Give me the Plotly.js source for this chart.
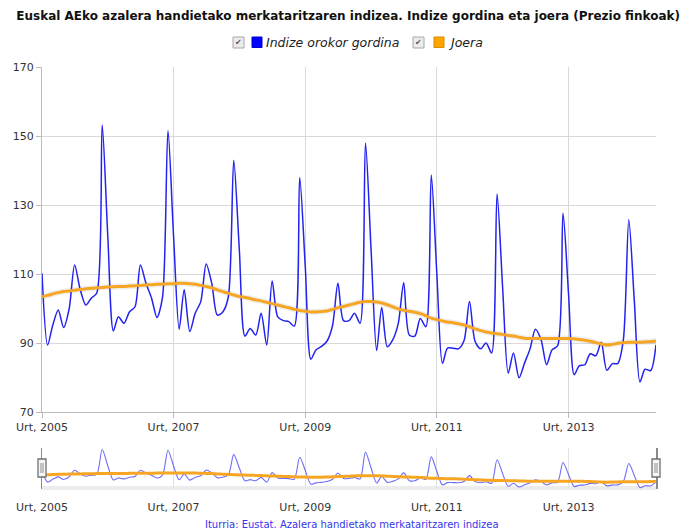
<!DOCTYPE html>
<html>
<head>
<meta charset="utf-8">
<script src="https://cdn.plot.ly/plotly-3.0.1.min.js"></script>
<style>
  html, body { margin: 0; padding: 0; background: #ffffff; }
  #chart { width: 688px; height: 529px; }
</style>
</head>
<body>
<div id="chart"></div>
<script>
// ---- Data (monthly, Jan 2005 .. May 2014) ----
const startYear = 2005;
const indizeOrokorGordina = [
  110.2, 89.4, 95.0, 99.6, 94.5, 100.0, 112.6, 105.5, 101.0, 103.0, 104.5, 153.2,
  121.0, 93.5, 97.6, 95.7, 99.0, 100.5, 112.6, 107.3, 103.0, 97.4, 103.4, 151.5,
  121.0, 94.0, 105.4, 93.3, 98.6, 102.0, 112.9, 107.3, 98.1, 99.0, 103.4, 143.0,
  117.0, 92.0, 94.2, 92.3, 98.6, 89.4, 108.0, 97.6, 96.5, 96.2, 94.9, 138.0,
  112.0, 85.3, 88.0, 89.0, 90.5, 95.0, 107.3, 96.5, 96.5, 98.6, 95.7, 148.0,
  117.0, 87.8, 100.3, 88.9, 90.9, 95.7, 107.5, 92.3, 92.0, 97.1, 94.7, 138.7,
  110.0, 84.1, 88.5, 88.5, 88.3, 90.7, 102.0, 90.5, 88.3, 90.0, 87.1, 133.2,
  106.0, 81.3, 87.1, 79.9, 84.1, 88.3, 94.0, 91.0, 83.7, 88.0, 89.2, 127.6,
  104.0, 80.8, 83.4, 83.7, 86.9, 86.3, 90.2, 82.1, 84.0, 84.1, 91.0, 125.7,
  102.0, 78.7, 82.4, 82.0, 89.5
];
const joera = [
  103.4, 103.8, 104.2, 104.6, 104.9, 105.1, 105.3, 105.5, 105.7, 105.9, 106.0, 106.1,
  106.2, 106.3, 106.4, 106.4, 106.5, 106.6, 106.7, 106.8, 106.9, 107.0, 107.1, 107.2,
  107.2, 107.3, 107.3, 107.2, 107.0, 106.7, 106.4, 106.0, 105.4, 104.9, 104.4, 103.9,
  103.5, 103.2, 102.9, 102.5, 102.2, 101.8, 101.4, 101.0, 100.6, 100.2, 99.8, 99.4,
  99.2, 99.0, 99.0, 99.1, 99.3, 99.7, 100.2, 100.6, 101.0, 101.4, 101.8, 102.0,
  102.0, 101.9, 101.6, 101.1, 100.5, 99.9, 99.5, 99.2, 98.9, 98.5, 97.9, 97.2,
  96.8, 96.4, 96.1, 95.9, 95.6, 95.2, 94.7, 94.1, 93.6, 93.2, 92.9, 92.7,
  92.5, 92.2, 92.0, 91.7, 91.4, 91.3, 91.3, 91.3, 91.3, 91.3, 91.3, 91.3,
  91.3, 91.2, 91.0, 90.8, 90.5, 90.1, 89.7, 89.4, 89.6, 89.9, 90.1, 90.2,
  90.2, 90.2, 90.3, 90.4, 90.6
];
const tickDates = ['2005-01-01', '2007-01-01', '2009-01-01', '2011-01-01', '2013-01-01'];
const tickLabels = ['Urt, 2005', 'Urt, 2007', 'Urt, 2009', 'Urt, 2011', 'Urt, 2013'];
const yTicks = [70, 90, 110, 130, 150, 170];
const seriesNames = ['Indize orokor gordina', 'Joera'];
const titleText = 'Euskal AEko azalera handietako merkataritzaren indizea. Indize gordina eta joera (Prezio finkoak)';
const sourceText = 'Iturria: Eustat. Azalera handietako merkataritzaren indizea';

// month dates
const dates = indizeOrokorGordina.map((_, i) => {
  const y = startYear + Math.floor(i / 12);
  const m = (i % 12) + 1;
  return y + '-' + String(m).padStart(2, '0') + '-01';
});
const xRange = [dates[0], dates[dates.length - 1]];

// ---- geometry helpers (pixel -> paper) ----
const W = 688, H = 529;
const M = { l: 42, r: 32, t: 67, b: 40 };
const PW = W - M.l - M.r, PH = H - M.t - M.b;
const px = x => (x - M.l) / PW;
const py = y => (H - M.b - y) / PH;

const FONT = 'DejaVu Sans, Verdana, sans-serif';
const BLUE = 'rgb(35,35,240)';
const ORANGE = '#f6a623';

const traces = [
  { x: dates, y: joera, name: seriesNames[1] + ' shadow', type: 'scatter', mode: 'lines',
    line: { color: 'rgba(120,120,120,0.12)', width: 6, shape: 'spline', smoothing: 0.8 },
    xaxis: 'x', yaxis: 'y', hoverinfo: 'skip' },
  { x: dates, y: indizeOrokorGordina, name: seriesNames[0], type: 'scatter', mode: 'lines',
    line: { color: BLUE, width: 1.5, shape: 'spline', smoothing: 0.8 }, xaxis: 'x', yaxis: 'y' },
  { x: dates, y: joera, name: seriesNames[1], type: 'scatter', mode: 'lines',
    line: { color: ORANGE, width: 3, shape: 'spline', smoothing: 0.8 }, xaxis: 'x', yaxis: 'y' },
  // navigator
  { x: dates, y: indizeOrokorGordina, name: seriesNames[0], type: 'scatter', mode: 'lines',
    line: { color: 'rgba(60,60,245,0.75)', width: 1.1, shape: 'spline', smoothing: 0.8 },
    xaxis: 'x2', yaxis: 'y2', hoverinfo: 'skip' },
  { x: dates, y: joera, name: seriesNames[1], type: 'scatter', mode: 'lines',
    line: { color: ORANGE, width: 3, shape: 'spline', smoothing: 0.8 },
    xaxis: 'x2', yaxis: 'y2', hoverinfo: 'skip' }
];

const mainBottom = 412;
const navTop = 448;

const shapes = [];
const annotations = [];

// legend (checkbox + swatch + italic label)
function legendItem(cbx, swx, textx, color, border, label) {
  shapes.push({ type: 'rect', xref: 'paper', yref: 'paper', x0: px(cbx), x1: px(cbx + 11), y0: py(48), y1: py(37),
    fillcolor: '#ececec', line: { color: '#a8a8a8', width: 1 } });
  annotations.push({ xref: 'paper', yref: 'paper', x: px(cbx + 5.5), y: py(42.5), text: '\u2714', showarrow: false,
    font: { family: FONT, size: 8, color: '#555' }, xanchor: 'center', yanchor: 'middle' });
  shapes.push({ type: 'rect', xref: 'paper', yref: 'paper', x0: px(swx), x1: px(swx + 10), y0: py(47.5), y1: py(37),
    fillcolor: color, line: { color: border, width: 1 } });
  annotations.push({ xref: 'paper', yref: 'paper', x: px(textx), y: py(42.5), text: '<i>' + label + '</i>', showarrow: false,
    font: { family: FONT, size: 12.5, color: '#222' }, xanchor: 'left', yanchor: 'middle' });
}
legendItem(233, 252, 264, '#0000ff', '#0000cc', seriesNames[0]);
legendItem(413, 434, 446, '#ffa500', '#d88a00', seriesNames[1]);

// navigator bottom band
shapes.push({ type: 'rect', xref: 'paper', yref: 'paper', x0: 0, x1: 1, y0: py(490), y1: py(486),
  fillcolor: '#ececec', line: { width: 0 }, layer: 'below' });

// navigator handles (at both ends of the navigator)
[0, 1].forEach(a => {
  shapes.push({ type: 'rect', xref: 'paper', yref: 'paper', xsizemode: 'pixel', xanchor: a, x0: -4, x1: 4,
    y0: py(477), y1: py(459), fillcolor: '#f6f6f6', line: { color: '#707070', width: 1.3 } });
  shapes.push({ type: 'line', xref: 'paper', yref: 'paper', xsizemode: 'pixel', xanchor: a, x0: -1, x1: -1,
    y0: py(473), y1: py(463), line: { color: '#909090', width: 1 } });
  shapes.push({ type: 'line', xref: 'paper', yref: 'paper', xsizemode: 'pixel', xanchor: a, x0: 1, x1: 1,
    y0: py(473), y1: py(463), line: { color: '#909090', width: 1 } });
});

// source
annotations.push({ xref: 'paper', yref: 'paper', x: px(352), y: py(524), text: sourceText, showarrow: false,
  font: { family: FONT, size: 10, color: '#3535ee' }, xanchor: 'center', yanchor: 'middle' });

const layout = {
  width: W, height: H,
  margin: M,
  paper_bgcolor: '#ffffff', plot_bgcolor: '#ffffff',
  showlegend: false,
  font: { family: FONT, size: 11, color: '#333' },
  title: { text: '<b>' + titleText + '</b>', font: { family: FONT, size: 12, color: '#111' },
    xref: 'container', x: 0.506, xanchor: 'center', yref: 'container', y: 1 - 16 / H, yanchor: 'middle' },
  xaxis: {
    type: 'date', range: xRange, domain: [0, 1], anchor: 'y',
    tickvals: tickDates, ticktext: tickLabels, ticks: 'outside', ticklen: 5, tickcolor: '#bbb',
    showgrid: true, gridcolor: '#d9d9d9', gridwidth: 1,
    showline: true, linecolor: '#bbb', linewidth: 1, zeroline: false,
    tickfont: { family: FONT, size: 11, color: '#333' }
  },
  yaxis: {
    range: [70, 170], domain: [py(mainBottom), 1], anchor: 'x',
    tickvals: yTicks, ticks: 'outside', ticklen: 5, tickcolor: '#bbb',
    showgrid: true, gridcolor: '#d9d9d9', gridwidth: 1,
    showline: true, linecolor: '#bbb', linewidth: 1, zeroline: false,
    tickfont: { family: FONT, size: 11, color: '#333' }
  },
  yaxis3: {
    range: [70, 170], overlaying: 'y', side: 'right', anchor: 'x',
    tickvals: yTicks, ticks: 'outside', ticklen: 5, tickcolor: '#bbb',
    showgrid: false, showline: true, linecolor: '#bbb', linewidth: 1, zeroline: false,
    tickfont: { family: FONT, size: 11, color: '#333' }
  },
  xaxis2: {
    type: 'date', range: xRange, domain: [0, 1], anchor: 'y2',
    tickvals: tickDates, ticktext: tickLabels, ticks: 'outside', ticklen: 8, tickcolor: 'rgba(0,0,0,0)',
    showgrid: true, gridcolor: '#e2e2e2',
    showline: false, zeroline: false, fixedrange: true,
    tickfont: { family: FONT, size: 11, color: '#333' }
  },
  yaxis2: {
    range: [76, 156], domain: [0, py(navTop)], anchor: 'x2',
    showticklabels: false, ticks: '', showgrid: false, zeroline: false,
    showline: true, mirror: true, linecolor: '#8a8a8a', linewidth: 1.5, fixedrange: true
  },
  shapes: shapes,
  annotations: annotations
};

Plotly.newPlot('chart', traces, layout, { displayModeBar: false, staticPlot: true });
</script>
</body>
</html>
